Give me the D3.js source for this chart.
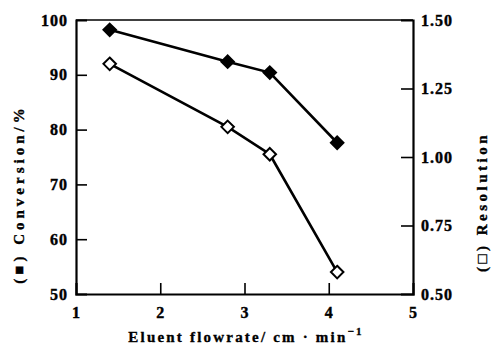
<!DOCTYPE html>
<html><head><meta charset="utf-8">
<script src="https://cdn.jsdelivr.net/npm/d3@7"></script>
<style>body{margin:0;background:#fff}svg{display:block}text{font-family:"Liberation Serif","DejaVu Serif",serif;font-weight:bold;fill:#000}</style>
</head><body><svg id="c" width="492" height="346"></svg>
<script>
const flowrate = [1.4, 2.8, 3.3, 4.1];
const conversion = [98.2, 92.4, 90.4, 77.6];
const resolution = [1.34, 1.11, 1.01, 0.58];
const xTicks = [1, 2, 3, 4, 5];
const leftTicks = [50, 60, 70, 80, 90, 100];
const rightTicks = [0.5, 0.75, 1.0, 1.25, 1.5];

const svg = d3.select("#c");
const L = 76, R = 413, T = 20, B = 294;
const x = d3.scaleLinear().domain([1, 5]).range([L, R]);
const yL = d3.scaleLinear().domain([50, 100]).range([B, T]);
const yR = d3.scaleLinear().domain([0.5, 1.5]).range([B, T]);

svg.append("line").attr("x1", L).attr("x2", R).attr("y1", T).attr("y2", T).attr("stroke", "#000").attr("stroke-width", 1.5);

const gL = svg.append("g").attr("transform", `translate(${L},0)`)
  .call(d3.axisLeft(yL).tickValues(leftTicks).tickSize(-11).tickFormat(d3.format("d")));
const gR = svg.append("g").attr("transform", `translate(${R},0)`)
  .call(d3.axisRight(yR).tickValues(rightTicks).tickSize(-12).tickFormat(d3.format(".2f")));
const gB = svg.append("g").attr("transform", `translate(0,${B})`)
  .call(d3.axisBottom(x).tickValues(xTicks).tickSize(-11).tickFormat(d3.format("d")));
[gL, gR, gB].forEach(g => {
  g.select(".domain").attr("stroke", "#000").attr("stroke-width", 2.2);
  g.selectAll(".tick line").attr("stroke", "#000").attr("stroke-width", 1.6);
  g.selectAll(".tick text").style("font-size", "16px").style("font-family", '"Liberation Serif",serif')
    .style("font-weight", "bold").style("letter-spacing", "1px").attr("stroke", "#000").attr("stroke-width", 0.4);
});
gL.selectAll(".tick text").attr("x", -8);
gR.selectAll(".tick text").attr("x", 8);
gB.selectAll(".tick text").attr("y", 13);
gL.selectAll(".tick").filter(d => d === 50 || d === 100).select("line").remove();
gR.selectAll(".tick").filter(d => d === 0.5 || d === 1.5).select("line").remove();
gB.selectAll(".tick").filter(d => d === 1 || d === 5).select("line").remove();

const diamond = d3.symbol().type(d3.symbolDiamond2).size(100);

function series(vals, yScale, filled) {
  const pts = flowrate.map((f, i) => [x(f), yScale(vals[i])]);
  svg.append("path").attr("d", d3.line()(pts)).attr("fill", "none").attr("stroke", "#000").attr("stroke-width", 2.6);
  svg.selectAll(null).data(pts).join("path")
    .attr("d", diamond).attr("transform", d => `translate(${d[0]},${d[1]})`)
    .attr("fill", filled ? "#000" : "#fff").attr("stroke", "#000").attr("stroke-width", 2);
}
series(conversion, yL, true);
series(resolution, yR, false);

const titleStyle = t => t.style("font-size", "15px").attr("stroke", "#000").attr("stroke-width", 0.35);

const xt = svg.append("text").attr("x", 246).attr("y", 342).attr("text-anchor", "middle")
  .style("letter-spacing", "2.2px").call(titleStyle);
xt.append("tspan").text("Eluent  flowrate/ cm · min");
xt.append("tspan").attr("dy", -7).style("font-size", "11px").text("−1");

svg.append("text").attr("transform", "translate(24,194) rotate(-90)").attr("text-anchor", "middle")
  .style("letter-spacing", "4px").call(titleStyle).text("(■)  Conversion/%");
svg.append("text").attr("transform", "translate(487,202) rotate(-90)").attr("text-anchor", "middle")
  .style("letter-spacing", "3.5px").call(titleStyle).text("(□)  Resolution");
</script></body></html>
